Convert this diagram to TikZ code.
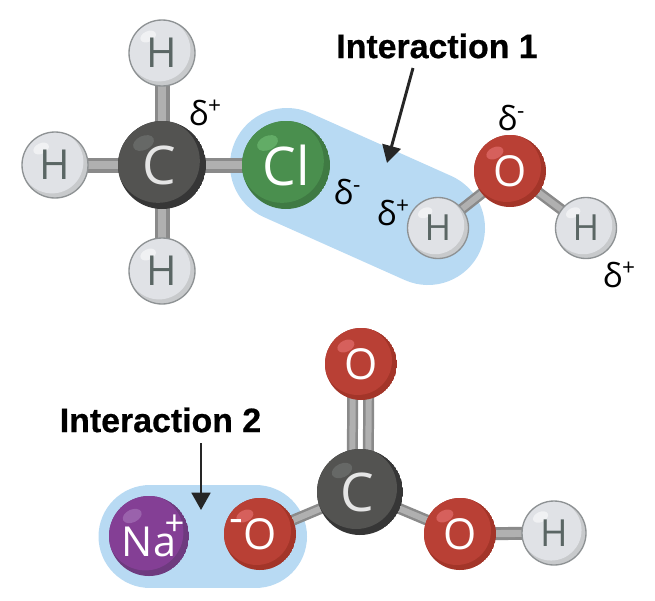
\documentclass[tikz,border=0pt]{standalone}
\usepackage{fontspec}
\setmainfont{Open Sans}
\newfontfamily\headfont[BoldFeatures={FakeBold=0.6}]{Liberation Sans}
\usetikzlibrary{arrows.meta,backgrounds}
\definecolor{hbase}{HTML}{E0E2E6}\definecolor{hdark}{HTML}{C8CACC}\definecolor{hhi}{HTML}{F0F1F3}\definecolor{hline}{HTML}{8E9294}\definecolor{htext}{HTML}{5A6664}
\definecolor{cbase}{HTML}{535351}\definecolor{cdark}{HTML}{363636}\definecolor{chi}{HTML}{666866}
\definecolor{clbase}{HTML}{4A8F4E}\definecolor{cldark}{HTML}{3F7A43}\definecolor{clhi}{HTML}{62AC66}
\definecolor{obase}{HTML}{B94035}\definecolor{odark}{HTML}{A33529}\definecolor{ohi}{HTML}{D6605C}
\definecolor{nabase}{HTML}{843F95}\definecolor{nadark}{HTML}{6E3A7F}\definecolor{nahi}{HTML}{9A62AC}
\definecolor{capsule}{HTML}{B8DAF3}\definecolor{bondlight}{HTML}{B0B0B0}\definecolor{bonddark}{HTML}{8A8A8A}\definecolor{ink}{HTML}{262626}
\newcommand{\afont}[1]{\fontsize{#1}{#1}\selectfont}
\tikzset{
  x=0.75pt,y=-0.75pt,
  atomlabel/.style={circle,inner sep=0pt,outer sep=0pt,minimum size=2*#1*0.75pt},
  hatom/.style={atomlabel=#1,draw=hline,line width=1pt,text=htext,font=\afont{31}},
  catom/.style={atomlabel=#1,text=white!90!black,font=\afont{40},text depth=0pt},
  clatom/.style={atomlabel=44,text=white,font=\afont{40}},
  oatom/.style={atomlabel=36,text=white,font=\afont{32}},
  naatom/.style={atomlabel=40,text=white,font=\afont{31}},
  bondback/.style={line width=#1*0.75pt,bonddark},
  bondfront/.style={line width=#1*0.75pt,bondlight},
  blob/.style={line width=#1*0.75pt,capsule,line cap=round},
  heading/.style={font=\headfont\bfseries\afont{25.4},text=black,inner sep=0pt},
  charge/.style={font=\afont{25},text=black,inner sep=0pt},
  pointer/.style={ink,line width=2.2pt,-{Triangle[width=14pt,length=13pt]}}
}
% sphere body: x, y, radius, base, dark rim, highlight
\newcommand{\sphere}[6]{%
  \begin{scope}[shift={(#1,#2)}]
    \begin{scope}
      \clip (0,0) circle[radius=#3];
      \fill[#5] (0,0) circle[radius=#3];
      \fill[#4] ({-0.09*#3},{-0.09*#3}) circle[radius={0.95*#3}];
    \end{scope}
    \fill[#6,rotate around={25:({-0.42*#3},{-0.5*#3})}] ({-0.42*#3},{-0.5*#3}) ellipse[x radius={0.25*#3},y radius={0.16*#3}];
  \end{scope}}
\newcommand{\hs}[3]{\sphere{#1}{#2}{#3}{hbase}{hdark}{hhi}}
\newcommand{\cs}[3]{\sphere{#1}{#2}{#3}{cbase}{cdark}{chi}}
\newcommand{\os}[2]{\sphere{#1}{#2}{36}{obase}{odark}{ohi}}
\newcommand{\bond}[3]{\draw[bondback=#3] #1 -- #2; \draw[bondfront=#3*0.55] #1 -- #2;}
\newcommand{\up}[1]{\raisebox{0.36em}{\fontsize{17}{17}\selectfont #1}}
\begin{document}
\begin{tikzpicture}
\useasboundingbox (0,0) rectangle (655,600);
% atoms, molecule 1
\hs{162}{53}{33}\node[hatom=33] (h1) at (162,53) {H};
\hs{55}{165}{33}\node[hatom=33] (h2) at (55,165) {H};
\hs{162}{271}{33}\node[hatom=33] (h3) at (162,271) {H};
\cs{162}{165}{44}\node[catom=44] (c1) at (162,165) {\hspace{-0.1em}C};
\sphere{286}{165}{44}{clbase}{cldark}{clhi}\node[clatom] (cl) at (286,165) {Cl};
\hs{438}{228}{30.5}\node[hatom=30.5,font=\afont{27}] (h4) at (438,228) {H};
\os{510}{171}\node[oatom] (o1) at (510,171) {O};
\hs{586}{228}{30.5}\node[hatom=30.5,font=\afont{27}] (h5) at (586,228) {H};
% atoms, molecule 2
\os{361}{364}\node[oatom] (o2) at (361,364) {O};
\cs{360}{492}{43}\node[catom=43] (c2) at (360,492) {\hspace{-0.1em}C};
\os{460}{534}\node[oatom] (o3) at (460,534) {O};
\hs{554}{533}{32}\node[hatom=32,font=\afont{28}] (h6) at (554,533) {H};
\sphere{149}{536}{40}{nabase}{nadark}{nahi}\node[naatom] (na) at (149,536) {Na\rlap{\hspace{-0.28em}\raisebox{0.52em}{\afont{26}+}}};
\os{260}{534}\node[oatom] (o4) at (260,534) {\llap{\raisebox{0.4em}{-}}O};
% capsules and bonds behind the atoms
\coordinate (b1a) at (287,165);
\coordinate (b1b) at (428,228);
\coordinate (b2a) at (150,536.5);
\coordinate (b2b) at (255.5,536.5);
\begin{scope}[on background layer]
  \draw[blob=114] (b1a) -- (b1b);
  \draw[blob=103] (b2a) -- (b2b);
  \bond{(h1.center)}{(c1.center)}{15}
  \bond{(h2.center)}{(c1.center)}{15}
  \bond{(h3.center)}{(c1.center)}{15}
  \bond{(c1.center)}{(cl.center)}{15}
  \bond{(h4.center)}{(o1.center)}{11}
  \bond{(h5.center)}{(o1.center)}{11}
  \bond{([xshift=-6pt]o2.center)}{([xshift=-6pt]c2.center)}{11}
  \bond{([xshift=6pt]o2.center)}{([xshift=6pt]c2.center)}{11}
  \bond{(c2.center)}{(o3.center)}{11}
  \bond{(c2.center)}{(o4.center)}{11}
  \bond{(o3.center)}{(h6.center)}{13}
\end{scope}
% partial charges
\node[charge] (d1) at (205,113) {δ\up{+}};
\node[charge] (d2) at (347,192) {δ\up{-}};
\node[charge] (d3) at (393,213) {δ\up{+}};
\node[charge] (d4) at (511,118) {δ\up{-}};
\node[charge] (d5) at (619,275) {δ\up{+}};
% headings and pointers
\node[heading] (t1) at (437,46) {Interaction 1};
\node[heading] (t2) at (160.5,420) {Interaction 2};
\coordinate (a1s) at (413,68);
\coordinate (a1e) at (387,163);
\coordinate (a2s) at (201,443);
\coordinate (a2e) at (201,510);
\draw[pointer] (a1s) -- (a1e);
\draw[pointer] (a2s) -- (a2e);
\end{tikzpicture}
\end{document}
